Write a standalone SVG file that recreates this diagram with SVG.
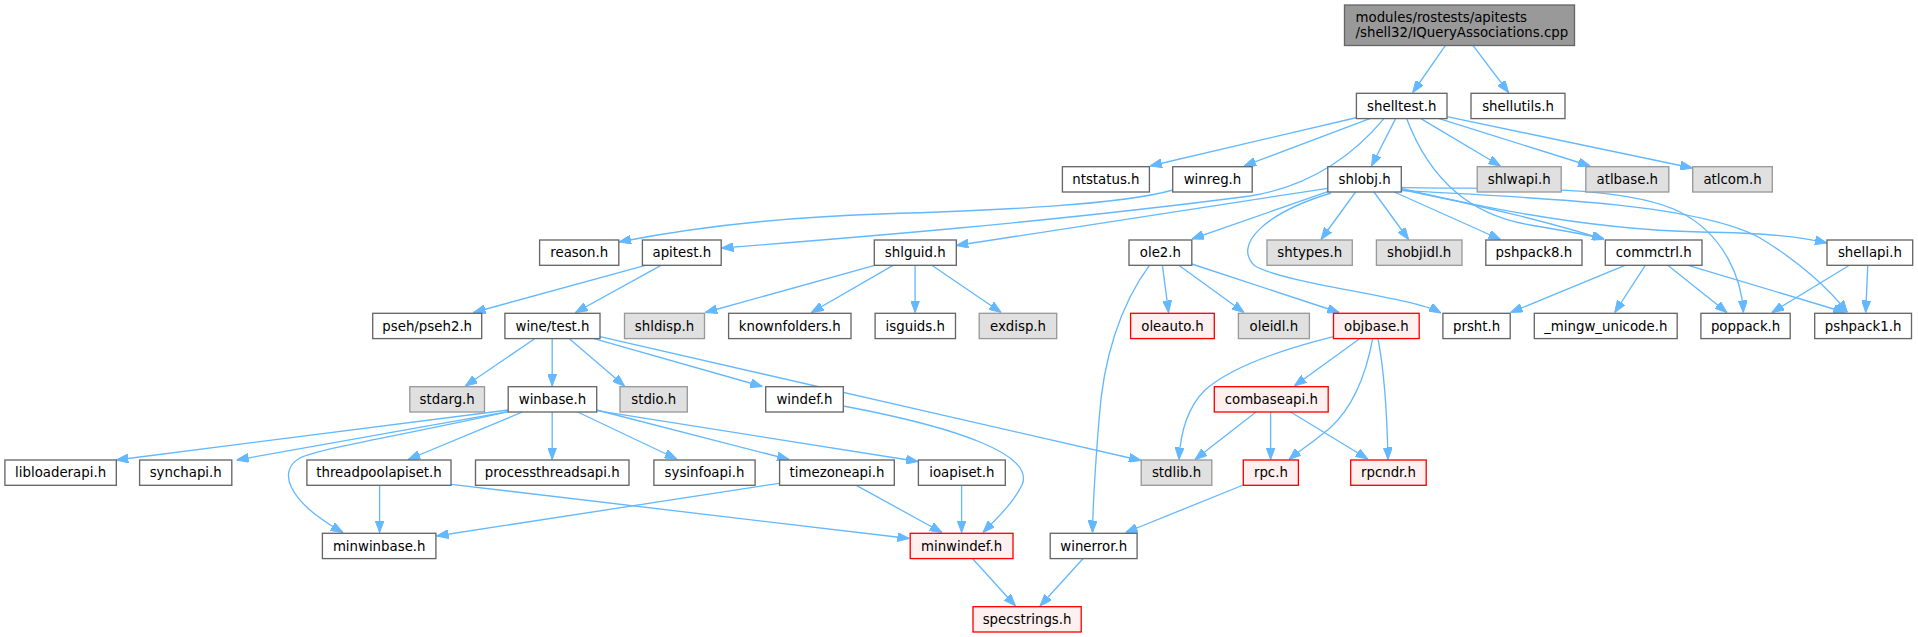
<svg xmlns="http://www.w3.org/2000/svg" width="1918" height="637" viewBox="0 0 1918 637">
<style>
rect{stroke-width:1.33}
.n rect{fill:#ffffff;stroke:#666666}
.g rect{fill:#e0e0e0;stroke:#999999}
.r rect{fill:#fff0f0;stroke:#ff0000}
.root rect{fill:#999999;stroke:#666666}
text{font-family:"DejaVu Sans","Liberation Sans",sans-serif;font-size:13.33px;fill:#000000;text-anchor:middle}
.root text{text-anchor:start}
#edges path{fill:none;stroke:#63b8ff;stroke-width:1.33;marker-end:url(#arr)}
</style>
<defs>
<marker id="arr" markerUnits="userSpaceOnUse" markerWidth="12" markerHeight="9" refX="12" refY="4.5" orient="auto" viewBox="0 0 12 9">
<path d="M0,0 L12,4.5 L0,9 Z" fill="#63b8ff" stroke="#63b8ff" stroke-width="1"/>
</marker>
</defs>
<rect width="1918" height="637" fill="#ffffff"/>
<g id="edges">
<path d="M1445.3,45.7 L1412.7,92.5"/>
<path d="M1473.1,45.7 L1508.6,92.5"/>
<path d="M1357,117.5 L1150,166"/>
<path d="M1369.8,118.6 L1244,166"/>
<path d="M1384,118.6 C1345,165 1300,188 1250,196 C1050,222 850,238 721.5,248"/>
<path d="M1395.6,118.6 L1371.5,166"/>
<path d="M1406.6,118.6 C1430,180 1470,215 1530,225 C1560,230 1590,235 1604,239"/>
<path d="M1420.9,118.6 L1500.4,166"/>
<path d="M1439.2,118.6 L1590.2,166"/>
<path d="M1447,116.7 L1692.3,168"/>
<path d="M1173,190 C1120,205 1000,210 880,214 C760,218 680,230 619,242"/>
<path d="M645.4,265.3 L473.5,312.5"/>
<path d="M661,265.3 L575.5,312.5"/>
<path d="M1327.8,188.3 L956.3,245.5"/>
<path d="M1327.8,191.7 C1290,205 1240,222 1191.8,239"/>
<path d="M1355.6,192 L1321,239.5"/>
<path d="M1374,192 L1408.6,239.5"/>
<path d="M1394.3,192 L1500.4,239.5"/>
<path d="M1401.3,189.5 C1480,205 1560,225 1604,239.5"/>
<path d="M1401.3,188.3 C1500,212 1600,230 1700,232 C1770,233 1800,237 1827,243"/>
<path d="M1401.3,187.3 C1500,190 1620,183 1680,212 C1725,235 1742,280 1743.3,312.5"/>
<path d="M1401.3,190.7 C1550,198 1700,205 1760,238 C1800,262 1830,290 1847.4,312.5"/>
<path d="M1331,193 C1265,213 1232,245 1255,266 C1290,285 1410,296 1441,313"/>
<path d="M1625,265.3 L1510.6,312.5"/>
<path d="M1645.3,265.3 L1614.7,312.5"/>
<path d="M1667.8,265.3 L1727,312.5"/>
<path d="M1688.2,265.3 L1845.3,312.5"/>
<path d="M1849.4,265.3 L1771.9,312.5"/>
<path d="M1867.8,265.3 L1865.7,312.5"/>
<path d="M874.7,265.3 L705.3,312.5"/>
<path d="M893,265.3 L811.4,312.5"/>
<path d="M915.1,265.3 L915.1,312.5"/>
<path d="M931.8,265.3 L1001.2,312.5"/>
<path d="M1162.4,265.3 L1168.6,312.5"/>
<path d="M1178.8,265.3 L1244,312.5"/>
<path d="M1191.8,264 L1339.2,312.5"/>
<path d="M1149.4,265.3 C1120,305 1103,360 1099,420 C1095,470 1093,500 1092.5,532.5"/>
<path d="M534.7,338.7 L465.3,386"/>
<path d="M552.2,338.7 L552.2,386"/>
<path d="M569.4,338.7 L624.5,386"/>
<path d="M593.9,338.7 L762.4,386.5"/>
<path d="M600,336.7 L1141,460.5"/>
<path d="M508.2,410 L116.3,460"/>
<path d="M508.2,411.7 L236.7,460"/>
<path d="M508.2,411.7 C420,432 320,448 300,458 C278,470 285,500 343,532.5"/>
<path d="M522.4,412 L408.2,459.5"/>
<path d="M552.2,412 L552.2,459.5"/>
<path d="M577.6,412 L676.7,459"/>
<path d="M596.7,410 L789,459.5"/>
<path d="M596.7,410.7 L918,461.5"/>
<path d="M379.6,485.3 L379.6,532.5"/>
<path d="M451,484.3 L909.4,538.5"/>
<path d="M779,483.3 L436.5,536"/>
<path d="M856.3,485.3 L942,532.5"/>
<path d="M961.6,485.3 L961.6,532.5"/>
<path d="M843.3,406 C960,428 1035,455 1022,485 C1012,505 995,520 983,532.5"/>
<path d="M972.7,558.7 L1015.5,606"/>
<path d="M1082.9,558.7 L1040,606"/>
<path d="M1333.5,336.7 C1280,350 1230,368 1205,390 C1185,410 1180,440 1179,459.5"/>
<path d="M1359.6,338.7 L1294.3,386"/>
<path d="M1372.7,338.7 C1365,380 1350,410 1330,428 C1312,443 1298,452 1289,459.5"/>
<path d="M1378,338.7 C1384,370 1387,410 1388,459.5"/>
<path d="M1256.3,411.7 L1195,459.5"/>
<path d="M1270.6,412 L1270.6,459.5"/>
<path d="M1290.2,411.7 L1367.8,459"/>
<path d="M1243.3,485 L1125.7,532.5"/>
</g>
<g id="root" class="root"><rect x="1344.5" y="5" width="230" height="40.5"/><text x="1355.5" y="21.5">modules/rostests/apitests</text><text x="1355.5" y="36.5">/shell32/IQueryAssociations.cpp</text></g>
<g id="shelltest" class="n"><rect x="1356.4" y="93.3" width="90.6" height="25.3"/><text x="1401.7" y="110.5">shelltest.h</text></g>
<g id="shellutils" class="n"><rect x="1471" y="93.3" width="94" height="25.3"/><text x="1518" y="110.5">shellutils.h</text></g>
<g id="ntstatus" class="n"><rect x="1062.4" y="166.7" width="87" height="25.3"/><text x="1105.9" y="183.9">ntstatus.h</text></g>
<g id="winreg" class="n"><rect x="1172.7" y="166.7" width="79.5" height="25.3"/><text x="1212.5" y="183.9">winreg.h</text></g>
<g id="shlobj" class="n"><rect x="1327.8" y="166.7" width="73.5" height="25.3"/><text x="1364.6" y="183.9">shlobj.h</text></g>
<g id="shlwapi" class="g"><rect x="1477.2" y="166.7" width="84" height="25.3"/><text x="1519.2" y="183.9">shlwapi.h</text></g>
<g id="atlbase" class="g"><rect x="1585.8" y="166.7" width="83" height="25.3"/><text x="1627.3" y="183.9">atlbase.h</text></g>
<g id="atlcom" class="g"><rect x="1692.7" y="166.7" width="79.6" height="25.3"/><text x="1732.5" y="183.9">atlcom.h</text></g>
<g id="reason" class="n"><rect x="539.6" y="240" width="79.2" height="25.3"/><text x="579.2" y="257.2">reason.h</text></g>
<g id="apitest" class="n"><rect x="642.4" y="240" width="78.8" height="25.3"/><text x="681.8" y="257.2">apitest.h</text></g>
<g id="shlguid" class="n"><rect x="874.3" y="240" width="82" height="25.3"/><text x="915.3" y="257.2">shlguid.h</text></g>
<g id="ole2" class="n"><rect x="1129" y="240" width="62.8" height="25.3"/><text x="1160.4" y="257.2">ole2.h</text></g>
<g id="shtypes" class="g"><rect x="1267" y="240" width="85.3" height="25.3"/><text x="1309.7" y="257.2">shtypes.h</text></g>
<g id="shobjidl" class="g"><rect x="1376.4" y="240" width="85.6" height="25.3"/><text x="1419.2" y="257.2">shobjidl.h</text></g>
<g id="pshpack8" class="n"><rect x="1485.8" y="240" width="96.2" height="25.3"/><text x="1533.9" y="257.2">pshpack8.h</text></g>
<g id="commctrl" class="n"><rect x="1605.3" y="240" width="96.7" height="25.3"/><text x="1653.7" y="257.2">commctrl.h</text></g>
<g id="shellapi" class="n"><rect x="1827" y="240" width="85.7" height="25.3"/><text x="1869.9" y="257.2">shellapi.h</text></g>
<g id="pseh" class="n"><rect x="372.7" y="313.3" width="109" height="25.3"/><text x="427.2" y="330.5">pseh/pseh2.h</text></g>
<g id="winetest" class="n"><rect x="504.9" y="313.3" width="95.1" height="25.3"/><text x="552.5" y="330.5">wine/test.h</text></g>
<g id="shldisp" class="g"><rect x="624.5" y="313.3" width="80" height="25.3"/><text x="664.5" y="330.5">shldisp.h</text></g>
<g id="knownfolders" class="n"><rect x="728.6" y="313.3" width="122.4" height="25.3"/><text x="789.8" y="330.5">knownfolders.h</text></g>
<g id="isguids" class="n"><rect x="875.1" y="313.3" width="80.4" height="25.3"/><text x="915.3" y="330.5">isguids.h</text></g>
<g id="exdisp" class="g"><rect x="979.2" y="313.3" width="77.5" height="25.3"/><text x="1018" y="330.5">exdisp.h</text></g>
<g id="oleauto" class="r"><rect x="1130.6" y="313.3" width="83.7" height="25.3"/><text x="1172.5" y="330.5">oleauto.h</text></g>
<g id="oleidl" class="g"><rect x="1238.4" y="313.3" width="71" height="25.3"/><text x="1273.9" y="330.5">oleidl.h</text></g>
<g id="objbase" class="r"><rect x="1333.5" y="313.3" width="85.7" height="25.3"/><text x="1376.4" y="330.5">objbase.h</text></g>
<g id="prsht" class="n"><rect x="1442.9" y="313.3" width="67.3" height="25.3"/><text x="1476.6" y="330.5">prsht.h</text></g>
<g id="mingw_unicode" class="n"><rect x="1534.3" y="313.3" width="142.9" height="25.3"/><text x="1605.8" y="330.5">_mingw_unicode.h</text></g>
<g id="poppack" class="n"><rect x="1700.9" y="313.3" width="89.3" height="25.3"/><text x="1745.6" y="330.5">poppack.h</text></g>
<g id="pshpack1" class="n"><rect x="1814.7" y="313.3" width="96.8" height="25.3"/><text x="1863.1" y="330.5">pshpack1.h</text></g>
<g id="stdarg" class="g"><rect x="409.8" y="386.7" width="74.7" height="25.3"/><text x="447.2" y="403.9">stdarg.h</text></g>
<g id="winbase" class="n"><rect x="508.2" y="386.7" width="88.5" height="25.3"/><text x="552.5" y="403.9">winbase.h</text></g>
<g id="stdio" class="g"><rect x="620" y="386.7" width="67.3" height="25.3"/><text x="653.7" y="403.9">stdio.h</text></g>
<g id="windef" class="n"><rect x="765.7" y="386.7" width="77.6" height="25.3"/><text x="804.5" y="403.9">windef.h</text></g>
<g id="combaseapi" class="r"><rect x="1214.3" y="386.7" width="113.9" height="25.3"/><text x="1271.3" y="403.9">combaseapi.h</text></g>
<g id="libloaderapi" class="n"><rect x="4.9" y="460" width="111.4" height="25.3"/><text x="60.6" y="477.2">libloaderapi.h</text></g>
<g id="synchapi" class="n"><rect x="139.6" y="460" width="92.2" height="25.3"/><text x="185.7" y="477.2">synchapi.h</text></g>
<g id="threadpoolapiset" class="n"><rect x="306.9" y="460" width="144.1" height="25.3"/><text x="379" y="477.2">threadpoolapiset.h</text></g>
<g id="processthreadsapi" class="n"><rect x="475.5" y="460" width="153.5" height="25.3"/><text x="552.3" y="477.2">processthreadsapi.h</text></g>
<g id="sysinfoapi" class="n"><rect x="653.9" y="460" width="101.2" height="25.3"/><text x="704.5" y="477.2">sysinfoapi.h</text></g>
<g id="timezoneapi" class="n"><rect x="779.6" y="460" width="114.7" height="25.3"/><text x="837" y="477.2">timezoneapi.h</text></g>
<g id="ioapiset" class="n"><rect x="918.4" y="460" width="86.9" height="25.3"/><text x="961.9" y="477.2">ioapiset.h</text></g>
<g id="stdlib" class="g"><rect x="1141.2" y="460" width="70.6" height="25.3"/><text x="1176.5" y="477.2">stdlib.h</text></g>
<g id="rpc" class="r"><rect x="1243.3" y="460" width="55.1" height="25.3"/><text x="1270.9" y="477.2">rpc.h</text></g>
<g id="rpcndr" class="r"><rect x="1350.7" y="460" width="75.5" height="25.3"/><text x="1388.5" y="477.2">rpcndr.h</text></g>
<g id="minwinbase" class="n"><rect x="322.4" y="533.3" width="113.5" height="25.3"/><text x="379.2" y="550.5">minwinbase.h</text></g>
<g id="minwindef" class="r"><rect x="910.2" y="533.3" width="102.8" height="25.3"/><text x="961.6" y="550.5">minwindef.h</text></g>
<g id="winerror" class="n"><rect x="1050.2" y="533.3" width="86.9" height="25.3"/><text x="1093.7" y="550.5">winerror.h</text></g>
<g id="specstrings" class="r"><rect x="973" y="606.7" width="108.2" height="25.3"/><text x="1027.1" y="623.9">specstrings.h</text></g>
</svg>
